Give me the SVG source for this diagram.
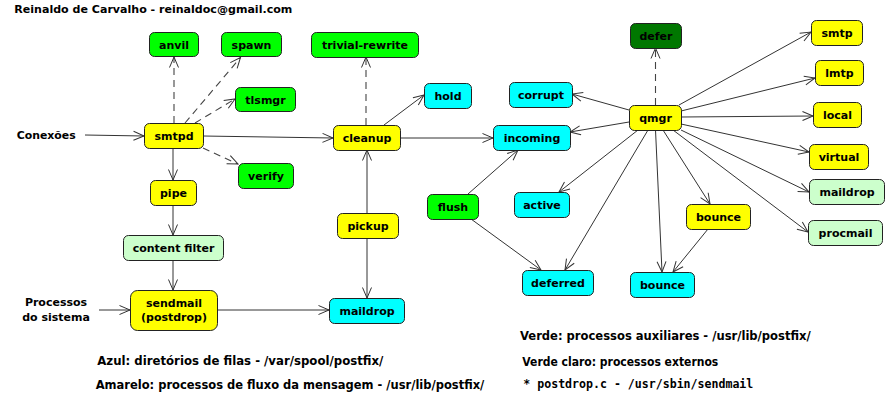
<svg xmlns="http://www.w3.org/2000/svg" width="894" height="413" viewBox="0 0 894 413">
<defs>
<style>
text{font-family:"DejaVu Sans","Liberation Sans",sans-serif;font-weight:bold;font-size:11px;fill:#000}
.lbl{text-anchor:middle}
.node rect{stroke:#222;stroke-width:1}
.y rect{fill:#ffff00}
.c rect{fill:#00ffff}
.g rect{fill:#00ff00}
.dg rect{fill:#007700}
.lg rect{fill:#ccffcc}
.e line{stroke:#333;stroke-width:1;fill:none;marker-end:url(#arr)}
.e line.d{stroke:#444;stroke-width:1.1;stroke-dasharray:7 5}
.leg{font-size:12px}
.mono{font-family:"DejaVu Sans Mono","Liberation Mono",monospace;font-size:11.5px}
</style>
<marker id="arr" markerUnits="userSpaceOnUse" markerWidth="12" markerHeight="10" refX="10.5" refY="4.5" orient="auto" overflow="visible">
<path d="M0,0 L10.5,4.5 L0,9" fill="none" stroke="#333" stroke-width="1"/>
</marker>
</defs>
<rect width="894" height="413" fill="#fff"/>

<g id="free-text">
<text x="14.3" y="12.5" textLength="278" lengthAdjust="spacingAndGlyphs" style="font-size:11.3px">Reinaldo de Carvalho - reinaldoc@gmail.com</text>
<text x="16.7" y="139" textLength="59" lengthAdjust="spacingAndGlyphs">Conexões</text>
<text x="56" y="306" class="lbl">Processos</text>
<text x="56" y="320.7" class="lbl">do sistema</text>
<text x="97.3" y="365" class="leg" textLength="286" lengthAdjust="spacingAndGlyphs">Azul: diretórios de filas - /var/spool/postfix/</text>
<text x="95.7" y="389" class="leg" textLength="388.6" lengthAdjust="spacingAndGlyphs">Amarelo: processos de fluxo da mensagem - /usr/lib/postfix/</text>
<text x="520" y="340" class="leg" textLength="290.7" lengthAdjust="spacingAndGlyphs">Verde: processos auxiliares - /usr/lib/postfix/</text>
<text x="522.3" y="365.7" class="leg" textLength="196" lengthAdjust="spacingAndGlyphs">Verde claro: processos externos</text>
<text x="523.3" y="387.7" class="mono" textLength="230" lengthAdjust="spacingAndGlyphs">* postdrop.c - /usr/sbin/sendmail</text>
</g>

<g id="connectors" class="e">
<line x1="85" y1="135" x2="144" y2="136"/>
<line class="d" x1="174" y1="123" x2="174" y2="57"/>
<line class="d" x1="185" y1="123" x2="240.5" y2="57.5"/>
<line class="d" x1="195" y1="123" x2="235" y2="99"/>
<line class="d" x1="203" y1="148" x2="238" y2="164"/>
<line x1="173" y1="148" x2="173" y2="180"/>
<line x1="203" y1="136" x2="333" y2="138"/>
<line class="d" x1="366" y1="125" x2="366" y2="57"/>
<line x1="384" y1="125" x2="424" y2="95"/>
<line x1="400" y1="138" x2="493" y2="138"/>
<line x1="367" y1="213" x2="367" y2="150"/>
<line x1="367" y1="238" x2="367" y2="298"/>
<line x1="173" y1="205" x2="173" y2="235"/>
<line x1="173" y1="260" x2="173" y2="290"/>
<line x1="99" y1="310" x2="130" y2="310"/>
<line x1="217" y1="310" x2="329" y2="310"/>
<line class="d" x1="655.5" y1="105" x2="655.5" y2="48"/>
<line x1="629" y1="110" x2="572" y2="94"/>
<line x1="629" y1="122" x2="570" y2="132"/>
<line x1="679" y1="105" x2="811" y2="32"/>
<line x1="681" y1="111" x2="815" y2="78"/>
<line x1="681" y1="117" x2="813" y2="116"/>
<line x1="681" y1="124" x2="809" y2="152"/>
<line x1="681" y1="130" x2="809" y2="192"/>
<line x1="673" y1="130" x2="808" y2="232"/>
<line x1="663" y1="130" x2="710" y2="204"/>
<line x1="655.5" y1="130" x2="662" y2="272"/>
<line x1="638" y1="130" x2="559" y2="192"/>
<line x1="648" y1="130" x2="565" y2="270"/>
<line x1="468" y1="194" x2="518" y2="150"/>
<line x1="471" y1="219" x2="541" y2="270"/>
<line x1="708" y1="229" x2="673" y2="272"/>
</g>

<g id="anvil" class="node g"><rect x="149.5" y="32.5" width="49" height="24" rx="5"/><text class="lbl" x="174" y="48.5">anvil</text></g>
<g id="spawn" class="node g"><rect x="221.5" y="32.5" width="60" height="24" rx="5"/><text class="lbl" x="251.5" y="48.5">spawn</text></g>
<g id="trivial-rewrite" class="node g"><rect x="311.5" y="32.5" width="107" height="25" rx="5"/><text class="lbl" x="365" y="49">trivial-rewrite</text></g>
<g id="tlsmgr" class="node g"><rect x="235.5" y="87.5" width="60" height="24" rx="5"/><text class="lbl" x="265.5" y="103.5">tlsmgr</text></g>
<g id="hold" class="node c"><rect x="424.5" y="83.5" width="47" height="25" rx="5"/><text class="lbl" x="448" y="100">hold</text></g>
<g id="smtpd" class="node y"><rect x="144.5" y="123.5" width="59" height="25" rx="5"/><text class="lbl" x="174" y="140">smtpd</text></g>
<g id="cleanup" class="node y"><rect x="333.5" y="125.5" width="67" height="25" rx="5"/><text class="lbl" x="367" y="142">cleanup</text></g>
<g id="verify" class="node g"><rect x="238.5" y="163.5" width="55" height="25" rx="5"/><text class="lbl" x="266" y="180">verify</text></g>
<g id="pipe" class="node y"><rect x="150.5" y="180.5" width="46" height="25" rx="5"/><text class="lbl" x="173.5" y="197">pipe</text></g>
<g id="content-filter" class="node lg"><rect x="123.5" y="235.5" width="100" height="25" rx="5"/><text class="lbl" x="173.5" y="252">content filter</text></g>
<g id="sendmail" class="node y"><rect x="130.5" y="290.5" width="87" height="40" rx="7"/><text class="lbl" x="174" y="306.5">sendmail</text><text class="lbl" x="174" y="321">(postdrop)</text></g>
<g id="pickup" class="node y"><rect x="337.5" y="213.5" width="61" height="25" rx="5"/><text class="lbl" x="368" y="230">pickup</text></g>
<g id="maildrop-queue" class="node c"><rect x="329.5" y="298.5" width="75" height="25" rx="5"/><text class="lbl" x="367" y="315">maildrop</text></g>
<g id="defer" class="node dg"><rect x="630.5" y="23.5" width="51" height="25" rx="5"/><text class="lbl" x="656" y="40">defer</text></g>
<g id="smtp" class="node y"><rect x="811.5" y="20.5" width="51" height="25" rx="5"/><text class="lbl" x="837" y="37">smtp</text></g>
<g id="lmtp" class="node y"><rect x="815.5" y="60.5" width="48" height="25" rx="5"/><text class="lbl" x="839.5" y="77">lmtp</text></g>
<g id="local" class="node y"><rect x="813.5" y="102.5" width="48" height="25" rx="5"/><text class="lbl" x="837.5" y="119">local</text></g>
<g id="virtual" class="node y"><rect x="809.5" y="144.5" width="59" height="25" rx="5"/><text class="lbl" x="839" y="161">virtual</text></g>
<g id="maildrop-ext" class="node lg"><rect x="809.5" y="179.5" width="75" height="25" rx="5"/><text class="lbl" x="847" y="196">maildrop</text></g>
<g id="corrupt" class="node c"><rect x="509.5" y="82.5" width="63" height="25" rx="5"/><text class="lbl" x="541" y="99">corrupt</text></g>
<g id="incoming" class="node c"><rect x="493.5" y="125.5" width="77" height="25" rx="5"/><text class="lbl" x="532" y="142">incoming</text></g>
<g id="qmgr" class="node y"><rect x="629.5" y="105.5" width="52" height="25" rx="5"/><text class="lbl" x="655.5" y="122">qmgr</text></g>
<g id="active" class="node c"><rect x="514.5" y="192.5" width="55" height="25" rx="5"/><text class="lbl" x="542" y="209">active</text></g>
<g id="flush" class="node g"><rect x="427.5" y="194.5" width="51" height="25" rx="5"/><text class="lbl" x="453" y="211">flush</text></g>
<g id="bounce-proc" class="node y"><rect x="686.5" y="204.5" width="64" height="25" rx="5"/><text class="lbl" x="718.5" y="221">bounce</text></g>
<g id="procmail" class="node lg"><rect x="808.5" y="220.5" width="74" height="25" rx="5"/><text class="lbl" x="845.5" y="237">procmail</text></g>
<g id="deferred" class="node c"><rect x="522.5" y="270.5" width="71" height="25" rx="5"/><text class="lbl" x="558" y="287">deferred</text></g>
<g id="bounce-queue" class="node c"><rect x="630.5" y="272.5" width="64" height="25" rx="5"/><text class="lbl" x="662.5" y="289">bounce</text></g>
</svg>
